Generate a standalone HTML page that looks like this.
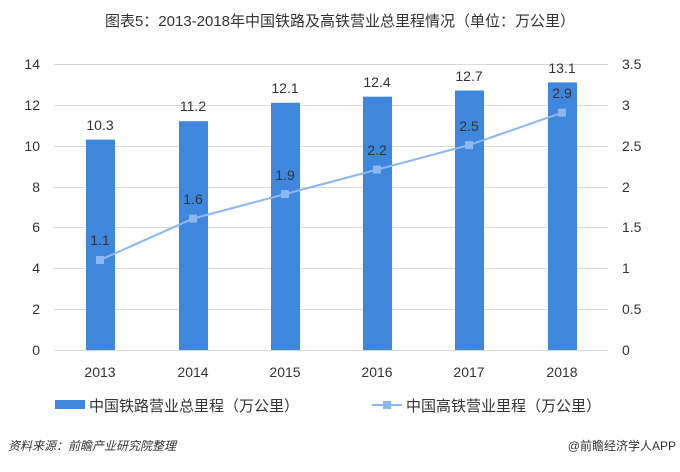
<!DOCTYPE html>
<html><head><meta charset="utf-8"><style>
body{margin:0;background:#fff;width:680px;height:467px;overflow:hidden}
text{font-family:"Liberation Sans","Noto Sans CJK SC",sans-serif}
</style></head><body>
<svg width="680" height="467" viewBox="0 0 680 467" xmlns="http://www.w3.org/2000/svg">
<text x="340" y="26" text-anchor="middle" font-size="15" fill="#333">图表5：2013-2018年中国铁路及高铁营业总里程情况（单位：万公里）</text>
<g stroke="#d9d9d9" stroke-width="1">
<line x1="54" y1="64.5" x2="608" y2="64.5"/><line x1="54" y1="105.5" x2="608" y2="105.5"/>
<line x1="54" y1="146.5" x2="608" y2="146.5"/><line x1="54" y1="187.5" x2="608" y2="187.5"/>
<line x1="54" y1="227.5" x2="608" y2="227.5"/><line x1="54" y1="268.5" x2="608" y2="268.5"/>
<line x1="54" y1="309.5" x2="608" y2="309.5"/><line x1="54" y1="350.5" x2="608" y2="350.5"/>
</g>
<g font-size="14" fill="#333" text-anchor="end">
<text x="40" y="69">14</text><text x="40" y="110">12</text><text x="40" y="151">10</text><text x="40" y="192">8</text>
<text x="40" y="232">6</text><text x="40" y="273">4</text><text x="40" y="314">2</text><text x="40" y="355">0</text>
</g>
<g font-size="14" fill="#333" text-anchor="start">
<text x="622" y="69">3.5</text><text x="622" y="110">3</text><text x="622" y="151">2.5</text><text x="622" y="192">2</text>
<text x="622" y="232">1.5</text><text x="622" y="273">1</text><text x="622" y="314">0.5</text><text x="622" y="355">0</text>
</g>
<g fill="#3f86dd">
<rect x="86" y="139.6" width="29" height="210.4"/><rect x="179" y="121.2" width="29" height="228.8"/>
<rect x="271" y="102.8" width="29" height="247.2"/><rect x="363" y="96.7" width="29" height="253.3"/>
<rect x="455" y="90.5" width="29" height="259.5"/><rect x="548" y="82.4" width="29" height="267.6"/>
</g>
<g font-size="14" fill="#333" text-anchor="middle">
<text x="100" y="130">10.3</text><text x="193" y="111">11.2</text><text x="285" y="93">12.1</text>
<text x="377" y="87">12.4</text><text x="469" y="81">12.7</text><text x="562" y="73">13.1</text>
</g>
<polyline points="100,260 193,218.6 285,194.1 377,169.6 469,145.1 562,112.7" fill="none" stroke="#8db7ee" stroke-width="2"/>
<g fill="#8db7ee">
<rect x="96" y="256" width="8" height="8"/><rect x="189" y="214.6" width="8" height="8"/><rect x="281" y="190.1" width="8" height="8"/>
<rect x="373" y="165.6" width="8" height="8"/><rect x="465" y="141.1" width="8" height="8"/><rect x="558" y="108.7" width="8" height="8"/>
</g>
<g font-size="14" fill="#333" text-anchor="middle">
<text x="100" y="245">1.1</text><text x="193" y="204">1.6</text><text x="285" y="180">1.9</text>
<text x="377" y="155">2.2</text><text x="469" y="131">2.5</text><text x="562" y="98">2.9</text>
</g>
<g font-size="14" fill="#333" text-anchor="middle">
<text x="100" y="377">2013</text><text x="193" y="377">2014</text><text x="285" y="377">2015</text>
<text x="377" y="377">2016</text><text x="469" y="377">2017</text><text x="562" y="377">2018</text>
</g>
<rect x="55" y="400" width="30" height="9" fill="#3f86dd"/>
<text x="89" y="411" font-size="15" fill="#333">中国铁路营业总里程（万公里）</text>
<line x1="372" y1="405" x2="402" y2="405" stroke="#8db7ee" stroke-width="2"/>
<rect x="383" y="401" width="8" height="8" fill="#8db7ee"/>
<text x="406" y="411" font-size="15" fill="#333">中国高铁营业里程（万公里）</text>
<text x="8" y="450" font-size="12" fill="#333" font-style="italic">资料来源：前瞻产业研究院整理</text>
<text x="676" y="450" font-size="12" fill="#333" text-anchor="end">@前瞻经济学人APP</text>
</svg>
</body></html>
